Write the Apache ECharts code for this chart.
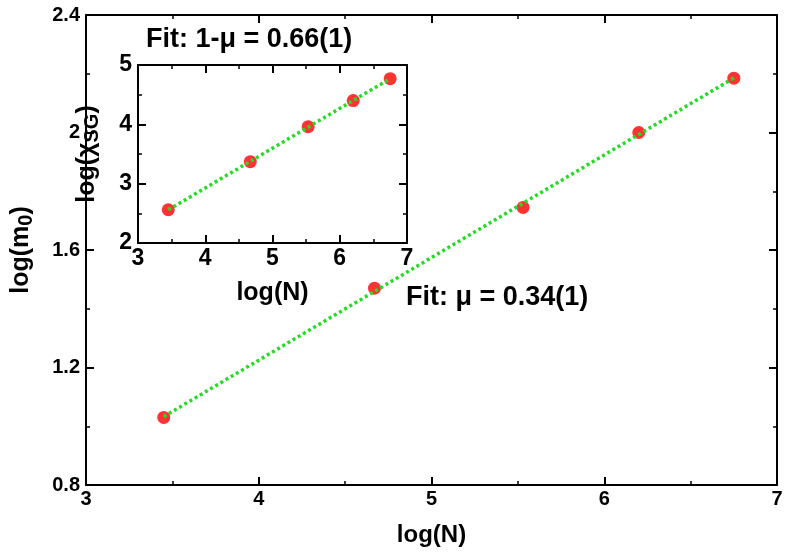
<!DOCTYPE html><html><head><meta charset="utf-8"><script src="https://cdn.jsdelivr.net/npm/echarts@6/dist/echarts.min.js"></script>
<style>html,body{margin:0;padding:0;background:#fff}#c{width:789px;height:552px}</style></head><body><div id="c"></div><script>
const mainX=[3.45,4.67,5.53,6.20,6.75];
const mainY=[1.03,1.47,1.745,2.0,2.185];
const insetX=[3.45,4.67,5.53,6.20,6.75];
const insetY=[2.56,3.37,3.96,4.40,4.77];
const xTicks=[3,4,5,6,7];
function fit(xs,ys){const n=xs.length;let sx=0,sy=0,sxx=0,sxy=0;for(let i=0;i<n;i++){sx+=xs[i];sy+=ys[i];sxx+=xs[i]*xs[i];sxy+=xs[i]*ys[i];}const b=(n*sxy-sx*sy)/(n*sxx-sx*sx),a=(sy-b*sx)/n;return [[xs[0],a+b*xs[0]],[xs[n-1],a+b*xs[n-1]]];}
const F='Liberation Sans, Arial, sans-serif';
const lab={color:'#000',fontWeight:'bold',fontFamily:F};
function xa(g,show,size,tsize,gap,name){return {type:'value',gridIndex:g,min:3,max:7,interval:1,position:show?'bottom':'top',
 axisLine:{show:true,onZero:false,lineStyle:{color:'#000',width:2}},axisTick:{show:true,inside:true,length:8,lineStyle:{color:'#000',width:2}},
 minorTick:{show:true,splitNumber:2,length:4,lineStyle:{color:'#000',width:1.5}},splitLine:{show:false},
 axisLabel:Object.assign({show:show,fontSize:size,margin:4},lab),name:show?name:'',nameLocation:'middle',nameGap:gap,nameTextStyle:Object.assign({fontSize:tsize},lab)};}
function ya(g,show,min,max,iv,size,tsize,gap,name,fmt){return {type:'value',gridIndex:g,min:min,max:max,interval:iv,position:show?'left':'right',
 axisLine:{show:true,onZero:false,lineStyle:{color:'#000',width:2}},axisTick:{show:true,inside:true,length:8,lineStyle:{color:'#000',width:2}},
 minorTick:{show:true,splitNumber:2,length:4,lineStyle:{color:'#000',width:1.5}},splitLine:{show:false},
 axisLabel:Object.assign({show:show,fontSize:size,margin:6,formatter:fmt},lab),name:show?name:'',nameLocation:'middle',nameGap:gap,
 nameTextStyle:Object.assign({fontSize:tsize,rich:{s:{fontSize:tsize-5,fontWeight:'bold',fontFamily:F,padding:[10,0,0,0]}}},lab)};}
const ch=echarts.init(document.getElementById('c'));
ch.setOption({animation:false,backgroundColor:'#fff',
grid:[{left:86,right:12,top:15,bottom:62},{left:138,top:65,width:269,height:178,backgroundColor:'#fff',show:true,borderWidth:0}],
xAxis:[xa(0,true,20,24,38,'log(N)'),xa(0,false,20),xa(1,true,23,25,38,'log(N)'),xa(1,false,23)],
yAxis:[ya(0,true,0.8,2.4,0.4,20,25,50,'log(m{s|0})',v=>(Math.abs(v-2)<1e-9?'2':v.toFixed(1))),ya(0,false,0.8,2.4,0.4,20),
 ya(1,true,2,5,1,23,25,36,'log(χ{s|SG})',v=>v),ya(1,false,2,5,1,23)],
series:[
{type:'line',xAxisIndex:0,yAxisIndex:0,data:fit(mainX,mainY),symbol:'none',lineStyle:{color:'#22dd22',width:3.5,type:[3,3]},z:3},
{type:'scatter',xAxisIndex:0,yAxisIndex:0,data:mainX.map((x,i)=>[x,mainY[i]]),symbolSize:13,itemStyle:{color:'#ff0000'},z:2},
{type:'line',xAxisIndex:2,yAxisIndex:2,data:fit(insetX,insetY),symbol:'none',lineStyle:{color:'#22dd22',width:3.5,type:[3,3]},z:13},
{type:'scatter',xAxisIndex:2,yAxisIndex:2,data:insetX.map((x,i)=>[x,insetY[i]]),symbolSize:13,itemStyle:{color:'#ff0000'},z:12}
],
graphic:[
{type:'text',left:406,top:284,style:{text:'Fit: μ = 0.34(1)',font:'bold 27px '+F,fill:'#000'}},
{type:'text',left:146,top:26,style:{text:'Fit: 1-μ = 0.66(1)',font:'bold 27px '+F,fill:'#000'}}
]});
</script></body></html>
